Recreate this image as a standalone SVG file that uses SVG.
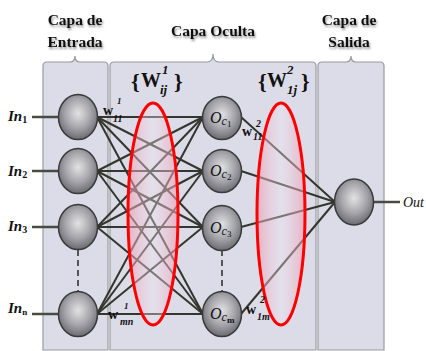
<svg xmlns="http://www.w3.org/2000/svg" width="426" height="351" viewBox="0 0 426 351">
<defs>
<radialGradient id="ng" cx="50%" cy="42%" r="60%">
<stop offset="0" stop-color="#e2e2e6"/>
<stop offset="0.55" stop-color="#a4a4aa"/>
<stop offset="1" stop-color="#66666c"/>
</radialGradient>
<linearGradient id="eg" x1="0" y1="0" x2="1" y2="0">
<stop offset="0" stop-color="#f096ac" stop-opacity="0.6"/>
<stop offset="0.5" stop-color="#eee8f2" stop-opacity="0.35"/>
<stop offset="1" stop-color="#f096ac" stop-opacity="0.6"/>
</linearGradient>
<filter id="sh" x="-10%" y="-20%" width="130%" height="160%">
<feDropShadow dx="1" dy="2" stdDeviation="1.2" flood-color="#444" flood-opacity="0.6"/>
</filter>
</defs>
<style>
.panel{fill:#dcdce8;stroke:#9a9a9e;stroke-width:1.2}
.node{fill:url(#ng);stroke:#3a3a3a;stroke-width:1.5}
.conn{stroke:#34352c;stroke-width:2;fill:none}
.io{stroke:#4a4a44;stroke-width:2.5;fill:none}
.dash{stroke:#555;stroke-width:2;stroke-dasharray:6,4;fill:none}
.ell{fill:url(#eg);stroke:#ff0000;stroke-width:3}
.title{font-family:"Liberation Serif",serif;font-weight:bold;font-size:15.5px;text-anchor:middle;fill:#111;filter:url(#sh)}
.lab{font-family:"Liberation Serif",serif;font-style:italic;font-weight:bold;fill:#111}
.nt{font-family:"Liberation Serif",serif;font-style:italic;fill:#111}
.wt{font-family:"Liberation Serif",serif;font-weight:bold;fill:#111}
</style>
<rect width="426" height="351" fill="#ffffff"/>
<g id="panels">
<path class="panel" d="M43,350 V66 Q43,62 47,62 H70 Q75,62 75,56 Q75,62 80,62 H104 Q108,62 108,66 V350 Z"/>
<path class="panel" d="M110,350 V66 Q110,62 114,62 H207 Q213,62 213,54 Q213,62 219,62 H312 Q316,62 316,66 V350 Z"/>
<path class="panel" d="M318,350 V66 Q318,62 322,62 H346 Q351,62 351,56 Q351,62 356,62 H380 Q384,62 384,66 V350 Z"/>
</g>
<g id="titles">
<text class="title" x="75" y="25">Capa de</text>
<text class="title" x="75" y="47">Entrada</text>
<text class="title" x="213" y="36">Capa Oculta</text>
<text class="title" x="349" y="25">Capa de</text>
<text class="title" x="349" y="47">Salida</text>
</g>
<g id="connectors">
<line class="io" x1="32" y1="117" x2="59" y2="117"/>
<line class="io" x1="32" y1="171" x2="59" y2="171"/>
<line class="io" x1="32" y1="227" x2="59" y2="227"/>
<line class="io" x1="32" y1="314" x2="59" y2="314"/>
<line class="io" x1="373" y1="202" x2="400" y2="202"/>
<line class="conn" x1="97" y1="117" x2="203" y2="117"/>
<line class="conn" x1="97" y1="117" x2="203" y2="171"/>
<line class="conn" x1="97" y1="117" x2="203" y2="227"/>
<line class="conn" x1="97" y1="117" x2="203" y2="314"/>
<line class="conn" x1="97" y1="171" x2="203" y2="117"/>
<line class="conn" x1="97" y1="171" x2="203" y2="171"/>
<line class="conn" x1="97" y1="171" x2="203" y2="227"/>
<line class="conn" x1="97" y1="171" x2="203" y2="314"/>
<line class="conn" x1="97" y1="227" x2="203" y2="117"/>
<line class="conn" x1="97" y1="227" x2="203" y2="171"/>
<line class="conn" x1="97" y1="227" x2="203" y2="227"/>
<line class="conn" x1="97" y1="227" x2="203" y2="314"/>
<line class="conn" x1="97" y1="314" x2="203" y2="117"/>
<line class="conn" x1="97" y1="314" x2="203" y2="171"/>
<line class="conn" x1="97" y1="314" x2="203" y2="227"/>
<line class="conn" x1="97" y1="314" x2="203" y2="314"/>
<line class="conn" x1="241" y1="117" x2="335" y2="202"/>
<line class="conn" x1="241" y1="171" x2="335" y2="202"/>
<line class="conn" x1="241" y1="227" x2="335" y2="202"/>
<line class="conn" x1="241" y1="314" x2="335" y2="202"/>
<line class="dash" x1="78" y1="250" x2="78" y2="291"/>
<line class="dash" x1="222" y1="250" x2="222" y2="291"/>
</g>
<g id="weights">
<ellipse class="ell" cx="153" cy="214" rx="25" ry="111"/>
<ellipse class="ell" cx="281" cy="214" rx="24" ry="111"/>
</g>
<g id="input-nodes">
<g id="in1"><ellipse class="node" cx="78" cy="117" rx="19.5" ry="22.5"/></g>
<g id="in2"><ellipse class="node" cx="78" cy="171" rx="19.5" ry="22.5"/></g>
<g id="in3"><ellipse class="node" cx="78" cy="227" rx="19.5" ry="22.5"/></g>
<g id="inn"><ellipse class="node" cx="78" cy="314" rx="19.5" ry="22.5"/></g>
</g>
<g id="hidden-nodes">
<g id="oc1"><ellipse class="node" cx="222" cy="118" rx="19.5" ry="21.5"/>
<text class="nt" x="210" y="123" font-size="16">O<tspan font-size="12" dy="2">c</tspan><tspan font-size="9" dy="2" font-style="normal">1</tspan></text></g>
<g id="oc2"><ellipse class="node" cx="222" cy="171" rx="19.5" ry="21.5"/>
<text class="nt" x="210" y="176" font-size="16">O<tspan font-size="12" dy="2">c</tspan><tspan font-size="9" dy="2" font-style="normal">2</tspan></text></g>
<g id="oc3"><ellipse class="node" cx="222" cy="228" rx="19.5" ry="22.5"/>
<text class="nt" x="210" y="233" font-size="16">O<tspan font-size="12" dy="2">c</tspan><tspan font-size="9" dy="2" font-style="normal">3</tspan></text></g>
<g id="ocm"><ellipse class="node" cx="222" cy="314" rx="19.5" ry="22.5"/>
<text class="nt" x="210" y="319" font-size="16">O<tspan font-size="12" dy="2">c</tspan><tspan font-size="9" dy="2" font-style="normal" font-weight="bold">m</tspan></text></g>
</g>
<g id="output-node">
<ellipse class="node" cx="354" cy="202" rx="19.5" ry="23"/>
</g>
<g id="io-labels">
<text class="lab" x="8" y="121" font-size="15">In<tspan font-size="10" dy="2" font-style="normal">1</tspan></text>
<text class="lab" x="8" y="176" font-size="15">In<tspan font-size="10" dy="2" font-style="normal">2</tspan></text>
<text class="lab" x="8" y="231" font-size="15">In<tspan font-size="10" dy="2" font-style="normal">3</tspan></text>
<text class="lab" x="8" y="313" font-size="15">In<tspan font-size="9" dy="2" font-style="normal">n</tspan></text>
<text class="nt" x="403" y="207" font-size="14">Out</text>
</g>
<g id="weight-labels">
<text class="wt" x="131" y="89" font-size="22">{</text>
<text class="wt" x="141" y="87" font-size="20">W</text>
<text class="lab" x="162" y="74" font-size="13">1</text>
<text class="lab" x="160" y="94" font-size="13">ij</text>
<text class="wt" x="174" y="89" font-size="22">}</text>
<text class="wt" x="258" y="89" font-size="22">{</text>
<text class="wt" x="267" y="87" font-size="20">W</text>
<text class="lab" x="287" y="74" font-size="13">2</text>
<text class="lab" x="287" y="94" font-size="13">1j</text>
<text class="wt" x="301" y="89" font-size="22">}</text>
<text class="wt" x="103" y="115" font-size="14">w</text>
<text class="lab" x="117" y="104" font-size="9">1</text>
<text class="lab" x="113" y="122" font-size="10">11</text>
<text class="wt" x="108" y="319" font-size="14">w</text>
<text class="lab" x="124" y="309" font-size="9">1</text>
<text class="lab" x="120" y="325" font-size="10">mn</text>
<text class="wt" x="242" y="136" font-size="14">w</text>
<text class="lab" x="256" y="127" font-size="10">2</text>
<text class="lab" x="253" y="140" font-size="10">11</text>
<text class="wt" x="246" y="314" font-size="14">w</text>
<text class="lab" x="260" y="303" font-size="10">2</text>
<text class="lab" x="257" y="320" font-size="10">1m</text>
</g>
</svg>
